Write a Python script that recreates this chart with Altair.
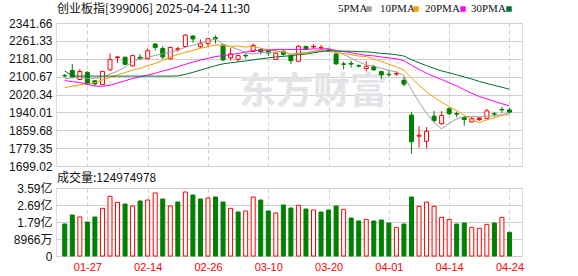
import altair as alt
import pandas as pd

# ---------------- data ----------------
dates = ["01-22", "01-23", "01-24", "01-27",
         "02-05", "02-06", "02-07", "02-10", "02-11", "02-12", "02-13", "02-14",
         "02-17", "02-18", "02-19", "02-20", "02-21", "02-24", "02-25", "02-26", "02-27", "02-28",
         "03-03", "03-04", "03-05", "03-06", "03-07", "03-10", "03-11", "03-12", "03-13", "03-14",
         "03-17", "03-18", "03-19", "03-20", "03-21", "03-24", "03-25", "03-26", "03-27", "03-28", "03-31",
         "04-01", "04-02", "04-03", "04-07", "04-08", "04-09", "04-10", "04-11",
         "04-14", "04-15", "04-16", "04-17", "04-18", "04-21", "04-22", "04-23", "04-24"]

opens = [2106, 2128, 2088, 2120, 2082, 2065, 2131, 2186, 2188, 2149,
         2188, 2181, 2247, 2227, 2181, 2222, 2236, 2283, 2235, 2250,
         2276, 2243, 2185, 2178, 2196, 2214, 2222, 2218, 2178, 2215,
         2194, 2170, 2236, 2234, 2230, 2220, 2202, 2158, 2160, 2150,
         2137, 2145, 2123, 2111, 2112, 2084, 1928, 1833, 1810, 1923,
         1889, 1956, 1934, 1917, 1897, 1907, 1913, 1934, 1953, 1951]
highs = [2112, 2157, 2134, 2125, 2084, 2126, 2205, 2193, 2190, 2198,
         2202, 2228, 2252, 2237, 2234, 2236, 2291, 2288, 2268, 2273,
         2286, 2246, 2229, 2198, 2205, 2249, 2228, 2222, 2210, 2219,
         2197, 2242, 2240, 2246, 2243, 2224, 2207, 2168, 2172, 2156,
         2169, 2154, 2127, 2129, 2124, 2100, 1943, 1878, 1874, 1947,
         1946, 1963, 1943, 1921, 1919, 1917, 1955, 1943, 1965, 1961]
lows = [2097, 2093, 2085, 2064, 2060, 2063, 2127, 2163, 2153, 2146,
        2177, 2178, 2218, 2180, 2177, 2212, 2234, 2253, 2229, 2236,
        2250, 2170, 2172, 2167, 2182, 2210, 2201, 2193, 2175, 2195,
        2158, 2166, 2220, 2226, 2222, 2212, 2154, 2133, 2141, 2141,
        2124, 2128, 2091, 2100, 2104, 2057, 1755, 1782, 1778, 1896,
        1885, 1928, 1918, 1880, 1895, 1902, 1909, 1923, 1938, 1936]
closes = [2104, 2099, 2124, 2068, 2068, 2124, 2177, 2189, 2156, 2195,
          2181, 2217, 2232, 2189, 2232, 2226, 2287, 2270, 2248, 2271,
          2272, 2176, 2203, 2195, 2194, 2241, 2213, 2207, 2206, 2201,
          2172, 2237, 2222, 2237, 2232, 2216, 2158, 2156, 2157, 2148,
          2147, 2131, 2109, 2109, 2114, 2067, 1808, 1837, 1855, 1903,
          1926, 1934, 1932, 1908, 1912, 1915, 1947, 1932, 1951, 1941]
filled_up = [55]

ma5 = [2090, 2096, 2099, 2092, 2093, 2097, 2112, 2125, 2143, 2168,
       2180, 2188, 2196, 2203, 2210, 2219, 2233, 2241, 2253, 2260,
       2270, 2247, 2234, 2223, 2208, 2202, 2209, 2210, 2212, 2214,
       2200, 2205, 2208, 2214, 2220, 2229, 2213, 2200, 2184, 2167,
       2153, 2148, 2138, 2129, 2122, 2106, 2041, 1987, 1936, 1894,
       1866, 1891, 1910, 1921, 1922, 1920, 1923, 1923, 1931, 1937]
ma10 = [2051, 2058, 2064, 2068, 2074, 2086, 2097, 2108, 2119, 2130,
        2138, 2150, 2160, 2173, 2189, 2200, 2210, 2218, 2228, 2235,
        2244, 2240, 2237, 2238, 2234, 2236, 2228, 2222, 2217, 2211,
        2201, 2207, 2209, 2213, 2217, 2214, 2209, 2204, 2199, 2193,
        2191, 2180, 2169, 2156, 2144, 2130, 2094, 2062, 2032, 2008,
        1986, 1966, 1948, 1928, 1908, 1893, 1907, 1916, 1926, 1930]
ma20 = [2083, 2078, 2074, 2067, 2058, 2057, 2062, 2072, 2082, 2092,
        2100, 2107, 2116, 2126, 2134, 2145, 2156, 2166, 2175, 2183,
        2191, 2195, 2199, 2205, 2211, 2218, 2219, 2220, 2223, 2223,
        2223, 2223, 2223, 2225, 2225, 2225, 2218, 2213, 2208, 2202,
        2196, 2194, 2189, 2185, 2181, 2172, 2152, 2133, 2116, 2101,
        2088, 2073, 2059, 2042, 2026, 2011, 2001, 1989, 1979, 1969]
ma30 = [2126, 2104, 2103, 2103, 2103, 2103, 2103, 2103, 2103, 2103,
        2103, 2103, 2103, 2103, 2103, 2104, 2111, 2120, 2130, 2140,
        2150, 2158, 2163, 2167, 2171, 2176, 2181, 2185, 2189, 2192,
        2195, 2199, 2202, 2208, 2213, 2217, 2216, 2215, 2215, 2213,
        2212, 2209, 2205, 2203, 2199, 2193, 2177, 2163, 2150, 2138,
        2126, 2118, 2109, 2099, 2090, 2079, 2070, 2061, 2053, 2044]

volumes_yi = [1.688, 2.162, 2.057, 1.793, 2.057, 2.514, 3.147, 2.830, 2.743, 2.637,
              2.901, 2.954, 3.323, 3.006, 2.637, 2.848, 3.375, 3.217, 3.006, 3.059,
              3.112, 2.848, 2.514, 2.321, 2.373, 3.112, 2.954, 2.373, 2.268, 2.690,
              2.532, 2.672, 2.479, 2.426, 2.321, 2.426, 2.637, 2.461, 2.004, 1.846,
              1.934, 1.846, 1.899, 1.740, 1.512, 1.688, 3.112, 2.619, 2.848, 2.619,
              2.039, 1.934, 1.688, 1.740, 1.512, 1.459, 1.670, 1.740, 2.039, 1.24974978]
vol_dir = list("ggrggrrrgr" "grrgrgrggr" "ggrgrrggrg" "grgrgggrgg" "rgggrggrrr" "rrggrrrgrg")

label_dates = ["01-27", "02-14", "02-26", "03-10", "03-20", "04-01", "04-14", "04-24"]
price_ticks = [1699.02, 1779.35, 1859.68, 1940.01, 2020.34, 2100.67, 2181.00, 2261.33, 2341.66]
vol_ticks = [0, 89660000, 179320000, 268980000, 358640000]
vol_tick_labels = ["0", "8966万", "1.79亿", "2.69亿", "3.59亿"]
ma_names = ["5PMA", "10PMA", "20PMA", "30PMA"]
ma_colors = ["#a0a0a0", "#f0a000", "#ff00ff", "#006f30"]
title_text = "创业板指[399006] 2025-04-24 11:30"
vol_title = "成交量:124974978"
watermark = "东方财富"

# ---------------- tables ----------------
n = len(dates)
idx = list(range(n))
kinds = ["upfill" if i in filled_up else ("up" if closes[i] >= opens[i] else "down") for i in idx]
candles = pd.DataFrame({"i": idx, "date": dates, "open": opens, "high": highs,
                        "low": lows, "close": closes, "kind": kinds})
vol_df = pd.DataFrame({"i": idx, "vol": [v * 1e8 for v in volumes_yi],
                       "dir": ["up" if d == "r" else "down" for d in vol_dir]})
ma_df = pd.concat([pd.DataFrame({"i": idx, "value": s, "ma": name})
                   for s, name in zip([ma5, ma10, ma20, ma30], ma_names)])

label_idx = [dates.index(d) for d in label_dates]
label_expr = "[" + ",".join("'%s'" % d for d in dates) + "][datum.value]"
vol_label_expr = "[" + ",".join("'%s'" % t for t in vol_tick_labels) + "][round(datum.value/89660000)]"

FONT = "Liberation Sans, Noto Sans CJK SC"
CJK = "Noto Sans CJK SC"
GRID = "#d0d0d0"

xscale = alt.Scale(domain=[-0.5, 60], nice=False, zero=False)
x_main = alt.X("i:Q", scale=xscale, title=None,
               axis=alt.Axis(values=label_idx, labels=False, ticks=False, domain=False,
                             grid=True, gridDash=[4, 3], gridColor=GRID))
x_vol = alt.X("i:Q", scale=xscale, title=None,
              axis=alt.Axis(values=label_idx, labelExpr=label_expr, ticks=False, domain=False,
                            grid=True, gridDash=[4, 3], gridColor=GRID,
                            labelColor="#ff0000", labelFontSize=11, labelPadding=5,
                            labelFont=FONT))

yscale = alt.Scale(domain=[1699.02, 2341.66], nice=False, zero=False)
yaxis = alt.Axis(values=price_ticks, format=".2f", grid=True, gridColor=GRID, ticks=False,
                 domain=False, labelPadding=4, labelFontSize=12, labelColor="#111",
                 labelFont=FONT)

kind_dom = ["up", "down", "upfill"]
fill_scale = alt.Scale(domain=kind_dom, range=["#ffffff", "#008000", "#ff0000"])
stroke_scale = alt.Scale(domain=kind_dom, range=["#ff0000", "#008000", "#ff0000"])

wm = alt.Chart(pd.DataFrame({"t": [watermark]})).mark_text(
    font=CJK, fontSize=37, fontWeight="bold", color="#e4e4e8", align="center", baseline="middle"
).encode(text="t:N", x=alt.value(257), y=alt.value(70))

wicks = alt.Chart(candles).mark_rule(strokeWidth=1).encode(
    x=x_main,
    y=alt.Y("low:Q", scale=yscale, axis=yaxis, title=None),
    y2="high:Q",
    stroke=alt.Stroke("kind:N", scale=stroke_scale, legend=None),
)
bodies = alt.Chart(candles).mark_bar(size=4, strokeWidth=1).encode(
    x=x_main,
    y=alt.Y("open:Q", scale=yscale, axis=yaxis, title=None),
    y2="close:Q",
    fill=alt.Fill("kind:N", scale=fill_scale, legend=None),
    stroke=alt.Stroke("kind:N", scale=stroke_scale, legend=None),
)
lines = alt.Chart(ma_df).mark_line(strokeWidth=1, interpolate="linear").encode(
    x=x_main,
    y=alt.Y("value:Q", scale=yscale, axis=yaxis, title=None),
    color=alt.Color("ma:N", scale=alt.Scale(domain=ma_names, range=ma_colors), legend=None),
    detail="ma:N",
)
title = alt.Chart(pd.DataFrame({"t": [title_text]})).mark_text(
    font=CJK, fontSize=12, color="#111", align="left", baseline="middle"
).encode(text="t:N", x=alt.value(1), y=alt.value(-14))

legend_layers = []
leg_text_x = [282, 324, 369, 415]
leg_sq_x = [313, 360, 407, 453]
for name, col, tx, sx in zip(ma_names, ma_colors, leg_text_x, leg_sq_x):
    legend_layers.append(
        alt.Chart(pd.DataFrame({"t": [name]})).mark_text(
            font="Liberation Serif", fontSize=11, color="#111", align="left", baseline="middle"
        ).encode(text="t:N", x=alt.value(tx), y=alt.value(-14)))
    legend_layers.append(
        alt.Chart(pd.DataFrame({"t": [name]})).mark_square(size=30, color=col, opacity=1, filled=True)
        .encode(x=alt.value(sx), y=alt.value(-14)))

main = alt.layer(wm, wicks, bodies, lines, title, *legend_layers).properties(width=466, height=143)

vfill = alt.Scale(domain=["up", "down"], range=["#ffffff", "#008000"])
vstroke = alt.Scale(domain=["up", "down"], range=["#ff0000", "#008000"])
vbars = alt.Chart(vol_df).mark_bar(size=4, strokeWidth=1).encode(
    x=x_vol,
    y=alt.Y("vol:Q", scale=alt.Scale(domain=[0, 358640000], nice=False),
            axis=alt.Axis(values=vol_ticks, labelExpr=vol_label_expr, grid=True, gridColor=GRID,
                          ticks=False, domain=False, labelPadding=4, labelFontSize=12,
                          labelColor="#111", labelFont=FONT),
            title=None),
    fill=alt.Fill("dir:N", scale=vfill, legend=None),
    stroke=alt.Stroke("dir:N", scale=vstroke, legend=None),
)
vtitle = alt.Chart(pd.DataFrame({"t": [vol_title]})).mark_text(
    font=CJK, fontSize=12, color="#111", align="left", baseline="middle"
).encode(text="t:N", x=alt.value(1), y=alt.value(-10))

vol = alt.layer(vbars, vtitle).properties(width=466, height=68)

chart = alt.vconcat(main, vol, spacing=22, bounds="flush").properties(
    padding={"left": 8, "top": 2, "right": 5, "bottom": 0}
).configure_view(stroke="#999999", strokeWidth=1).configure(background="white")

chart.save("out.html", embed_options={"renderer": "svg", "actions": False})
